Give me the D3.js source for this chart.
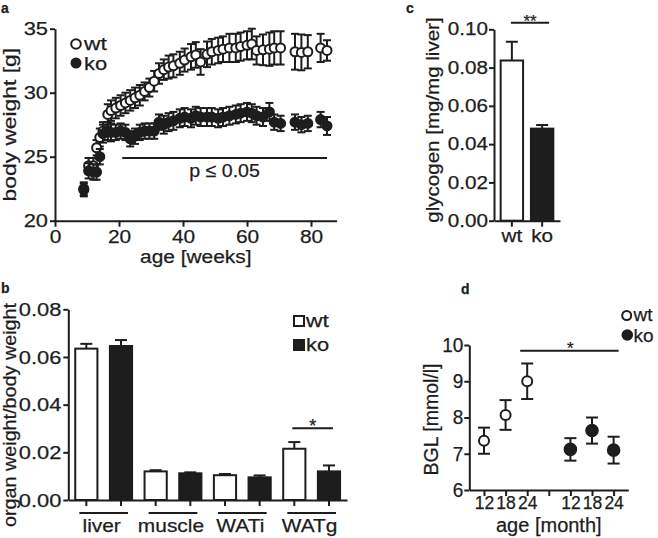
<!DOCTYPE html>
<html><head><meta charset="utf-8">
<script src="https://cdn.jsdelivr.net/npm/d3@7"></script>
<style>
body{margin:0;background:#fff}
svg{display:block}
text{font-family:"Liberation Sans",Arial,Helvetica,sans-serif;fill:#1d1d1d;stroke:#1d1d1d;stroke-width:0.25px}
</style>
</head><body>
<svg id="chart" width="658" height="538"></svg>
<script>
// ---------- DATA ----------
// Panel a: body weight over age
const weeks = [9, 10.5, 12, 13, 14, 15, 16.5, 17.5, 19, 20.5, 22, 23.5, 25, 26.5, 28, 29.5, 31, 32.5, 34, 35.5, 37, 39, 40.5, 42.5, 44, 45.5, 47.5, 49, 51, 52.5, 54.5, 56.5, 58, 60, 61.5, 63, 65, 67, 68.5, 70.5, 75, 77, 79, 83, 85];
const wtWeight = [22.5, 24.3, 24.3, 25.7, 26.5, 27.0, 28.3, 28.6, 28.8, 29.0, 29.2, 29.4, 29.6, 29.8, 30.1, 30.4, 30.9, 31.5, 31.8, 32.0, 32.1, 32.3, 32.55, 32.8, 32.95, 32.4, 33.0, 33.2, 33.3, 33.4, 33.5, 33.5, 33.6, 33.7, 33.8, 33.3, 33.35, 33.4, 33.5, 33.5, 33.2, 33.15, 33.2, 33.5, 33.3];
const wtWeightErr = [0.5, 0.6, 0.6, 0.6, 0.7, 0.7, 0.8, 0.8, 0.8, 0.8, 0.8, 0.8, 0.8, 0.8, 0.7, 0.7, 0.8, 0.8, 0.8, 0.9, 0.9, 0.9, 0.9, 1.0, 1.0, 1.0, 1.0, 1.0, 1.0, 1.0, 1.1, 1.1, 1.1, 1.1, 1.2, 1.1, 1.2, 1.3, 1.3, 1.3, 1.4, 1.4, 1.3, 1.1, 0.8];
const koWeight = [22.4, 23.9, 23.8, 23.8, 25.0, 26.8, 27.0, 26.9, 26.9, 27.0, 26.9, 26.4, 26.6, 26.9, 27.0, 27.0, 27.0, 27.7, 27.5, 27.7, 27.8, 28.0, 28.1, 28.0, 28.2, 28.1, 28.1, 28.1, 28.0, 28.1, 28.2, 28.3, 28.4, 28.5, 28.4, 28.2, 28.1, 28.5, 27.7, 27.6, 27.7, 27.5, 27.6, 27.9, 27.4];
const koWeightErr = [0.5, 0.6, 0.6, 0.6, 0.6, 0.7, 0.7, 0.7, 0.6, 0.6, 0.6, 0.6, 0.6, 0.6, 0.6, 0.6, 0.6, 0.6, 0.7, 0.7, 0.7, 0.7, 0.7, 0.7, 0.7, 0.7, 0.7, 0.7, 0.7, 0.7, 0.7, 0.7, 0.7, 0.7, 0.7, 0.7, 0.7, 0.7, 0.6, 0.6, 0.6, 0.6, 0.6, 0.6, 0.7];
const weekTicks = [0, 20, 40, 60, 80];
const weightTicks = [20, 25, 30, 35];
const sigA = {from: 21, to: 85, at: 24.9, label: "p \u2264 0.05"};

// Panel b: organ weight / body weight
const organs = ["liver", "muscle", "WATi", "WATg"];
const wtOrgan = [0.0635, 0.0120, 0.0104, 0.0215];
const wtOrganErr = [0.0020, 0.0005, 0.0005, 0.0028];
const koOrgan = [0.0646, 0.0112, 0.0095, 0.0120];
const koOrganErr = [0.0025, 0.0004, 0.0008, 0.0025];
const organTicks = [0, 0.02, 0.04, 0.06, 0.08];

// Panel c: liver glycogen
const genotypes = ["wt", "ko"];
const glycogen = [0.0837, 0.0481];
const glycogenErr = [0.0098, 0.0019];
const glycogenTicks = [0, 0.02, 0.04, 0.06, 0.08, 0.10];

// Panel d: blood glucose level
const bglAges = ["12", "18", "24"];
const wtBGL = [7.36, 8.07, 9.0];
const wtBGLErr = [0.36, 0.41, 0.49];
const koBGL = [7.12, 7.64, 7.10];
const koBGLErr = [0.31, 0.36, 0.37];
const bglTicks = [6, 7, 8, 9, 10];

// ---------- DRAWING ----------
const INK = "#1d1d1d";
const svg = d3.select("#chart");
const SW = 2;

function stretch(sel, k) {
  sel.each(function () {
    const L = this.getComputedTextLength();
    if (L > 0) {
      this.setAttribute("textLength", L * k);
      this.setAttribute("lengthAdjust", "spacingAndGlyphs");
    }
  });
}
function styleAxis(g, fs) {
  g.attr("font-size", fs).attr("font-family", null).style("color", INK);
  g.selectAll("path,line").attr("stroke-width", SW);
}
function label(x, y, txt, fs, anchor, rot) {
  const t = svg.append("text").attr("font-size", fs).attr("text-anchor", anchor || "middle").text(txt);
  if (rot) t.attr("transform", `translate(${x},${y}) rotate(-90)`);
  else t.attr("x", x).attr("y", y);
  return t;
}
function panelLetter(x, y, s) {
  svg.append("text").attr("x", x).attr("y", y).attr("font-size", 14).attr("font-weight", "bold").text(s);
}

// ===== Panel a =====
{
  const x = d3.scaleLinear().domain([0, 88]).range([55, 336.6]);
  const y = d3.scaleLinear().domain([20, 35]).range([220.7, 28.7]);
  const gx = svg.append("g").attr("transform", `translate(0,${y(20)})`)
    .call(d3.axisBottom(x).tickValues(weekTicks).tickSize(6).tickPadding(3).tickSizeOuter(0));
  styleAxis(gx, 19); stretch(gx.selectAll("text"), 1.1);
  const gy = svg.append("g").attr("transform", `translate(${x(0)},0)`)
    .call(d3.axisLeft(y).tickValues(weightTicks).tickSize(5).tickPadding(2).tickSizeOuter(0));
  styleAxis(gy, 19); stretch(gy.selectAll("text"), 1.15);

  const series = [
    {v: wtWeight, e: wtWeightErr, fill: "#fff"},
    {v: koWeight, e: koWeightErr, fill: INK}
  ];
  series.forEach(s => {
    const g = svg.append("g");
    const pts = weeks.map((w, i) => ({w, v: s.v[i], e: s.e[i]}));
    const eb = g.selectAll("g.eb").data(pts).enter().append("g")
      .attr("stroke", INK).attr("stroke-width", SW);
    eb.append("line").attr("x1", d => x(d.w)).attr("x2", d => x(d.w))
      .attr("y1", d => y(d.v - d.e)).attr("y2", d => y(d.v + d.e));
    eb.append("line").attr("x1", d => x(d.w) - 4).attr("x2", d => x(d.w) + 4)
      .attr("y1", d => y(d.v + d.e)).attr("y2", d => y(d.v + d.e));
    eb.append("line").attr("x1", d => x(d.w) - 4).attr("x2", d => x(d.w) + 4)
      .attr("y1", d => y(d.v - d.e)).attr("y2", d => y(d.v - d.e));
    g.selectAll("circle").data(pts).enter().append("circle")
      .attr("cx", d => x(d.w)).attr("cy", d => y(d.v)).attr("r", 4.5)
      .attr("fill", s.fill).attr("stroke", INK).attr("stroke-width", SW);
  });

  svg.append("line").attr("x1", x(sigA.from)).attr("x2", x(sigA.to))
    .attr("y1", y(sigA.at)).attr("y2", y(sigA.at)).attr("stroke", INK).attr("stroke-width", SW);
  stretch(label(x((sigA.from + sigA.to) / 2), y(sigA.at) + 19.5, sigA.label, 19), 1.03);

  svg.append("circle").attr("cx", 76).attr("cy", 44).attr("r", 4.8).attr("fill", "#fff").attr("stroke", INK).attr("stroke-width", SW);
  svg.append("circle").attr("cx", 76).attr("cy", 63).attr("r", 5.5).attr("fill", INK);
  stretch(label(84, 50, "wt", 19, "start"), 1.2);
  stretch(label(84, 69.5, "ko", 19, "start"), 1.15);

  stretch(label((x.range()[0] + x.range()[1]) / 2, 263, "age [weeks]", 18), 1.16);
  stretch(label(16, (y(20) + y(35)) / 2, "body weight [g]", 19, "middle", true), 1.2);
  panelLetter(1, 13, "a");
}

// ===== Panel b =====
{
  const keys = organs.flatMap(o => [o + "|wt", o + "|ko"]);
  const x = d3.scaleBand().domain(keys).range([68.3, 347]).paddingInner(0.36).paddingOuter(0.2);
  const y = d3.scaleLinear().domain([0, 0.08]).range([500, 309.3]);
  const bw = x.bandwidth();
  const data = organs.flatMap((o, i) => [
    {k: o + "|wt", v: wtOrgan[i], e: wtOrganErr[i], fill: "#fff"},
    {k: o + "|ko", v: koOrgan[i], e: koOrganErr[i], fill: INK}
  ]);
  const g = svg.append("g");
  g.selectAll("line.eb").data(data).enter().append("line")
    .attr("x1", d => x(d.k) + bw / 2).attr("x2", d => x(d.k) + bw / 2)
    .attr("y1", d => y(d.v)).attr("y2", d => y(d.v + d.e)).attr("stroke", INK).attr("stroke-width", SW);
  g.selectAll("line.cap").data(data).enter().append("line")
    .attr("x1", d => x(d.k) + bw / 2 - 6).attr("x2", d => x(d.k) + bw / 2 + 6)
    .attr("y1", d => y(d.v + d.e)).attr("y2", d => y(d.v + d.e)).attr("stroke", INK).attr("stroke-width", SW);
  g.selectAll("rect").data(data).enter().append("rect")
    .attr("x", d => x(d.k)).attr("width", bw)
    .attr("y", d => y(d.v)).attr("height", d => y(0) - y(d.v))
    .attr("fill", d => d.fill).attr("stroke", INK).attr("stroke-width", SW);

  const gx = svg.append("g").attr("transform", `translate(0,${y(0)})`)
    .call(d3.axisBottom(x).tickSize(6).tickFormat("").tickSizeOuter(0));
  styleAxis(gx, 19);
  const gy = svg.append("g").attr("transform", `translate(${x.range()[0]},0)`)
    .call(d3.axisLeft(y).tickValues(organTicks).tickFormat(d3.format(".2f")).tickSize(5).tickPadding(2).tickSizeOuter(0));
  styleAxis(gy, 19); stretch(gy.selectAll("text"), 1.15);

  organs.forEach(o => {
    const c1 = x(o + "|wt") + bw / 2, c2 = x(o + "|ko") + bw / 2;
    svg.append("line").attr("x1", c1 - 7).attr("x2", c2 + 7).attr("y1", y(0) + 13).attr("y2", y(0) + 13)
      .attr("stroke", INK).attr("stroke-width", SW);
    stretch(label((c1 + c2) / 2 - 2, 531.5, o, 19), 1.1);
  });

  const s1 = x("WATg|wt") + bw / 2, s2 = x("WATg|ko") + bw / 2;
  svg.append("line").attr("x1", s1 - 2).attr("x2", s2 + 4).attr("y1", 428.3).attr("y2", 428.3)
    .attr("stroke", INK).attr("stroke-width", SW);
  label((s1 + s2) / 2 + 1, 432, "*", 18);

  svg.append("rect").attr("x", 294).attr("y", 316).attr("width", 10).attr("height", 10)
    .attr("fill", "#fff").attr("stroke", INK).attr("stroke-width", SW);
  svg.append("rect").attr("x", 293).attr("y", 339).attr("width", 12).attr("height", 12).attr("fill", INK);
  stretch(label(306, 326.5, "wt", 19, "start"), 1.2);
  stretch(label(306, 350.5, "ko", 19, "start"), 1.15);

  stretch(label(16, 415, "organ weight/body weight", 19, "middle", true), 1.04);
  panelLetter(1, 293, "b");
}

// ===== Panel c =====
{
  const x = d3.scaleBand().domain(genotypes).range([494, 560]).paddingInner(0.26).paddingOuter(0.22);
  const y = d3.scaleLinear().domain([0, 0.1]).range([220.7, 29.3]);
  const bw = x.bandwidth();
  const data = genotypes.map((gname, i) => ({k: gname, v: glycogen[i], e: glycogenErr[i], fill: i === 0 ? "#fff" : INK}));
  const g = svg.append("g");
  g.selectAll("line.eb").data(data).enter().append("line")
    .attr("x1", d => x(d.k) + bw / 2).attr("x2", d => x(d.k) + bw / 2)
    .attr("y1", d => y(d.v)).attr("y2", d => y(d.v + d.e)).attr("stroke", INK).attr("stroke-width", SW);
  g.selectAll("line.cap").data(data).enter().append("line")
    .attr("x1", d => x(d.k) + bw / 2 - 6).attr("x2", d => x(d.k) + bw / 2 + 6)
    .attr("y1", d => y(d.v + d.e)).attr("y2", d => y(d.v + d.e)).attr("stroke", INK).attr("stroke-width", SW);
  g.selectAll("rect").data(data).enter().append("rect")
    .attr("x", d => x(d.k)).attr("width", bw)
    .attr("y", d => y(d.v)).attr("height", d => y(0) - y(d.v))
    .attr("fill", d => d.fill).attr("stroke", INK).attr("stroke-width", SW);

  const gx = svg.append("g").attr("transform", `translate(0,${y(0)})`)
    .call(d3.axisBottom(x).tickSize(6).tickPadding(3).tickSizeOuter(0));
  styleAxis(gx, 18); stretch(gx.selectAll("text"), 1.15);
  const gy = svg.append("g").attr("transform", `translate(${x.range()[0]},0)`)
    .call(d3.axisLeft(y).tickValues(glycogenTicks).tickFormat(d3.format(".2f")).tickSize(5).tickPadding(1).tickSizeOuter(0));
  styleAxis(gy, 17.5); stretch(gy.selectAll("text"), 1.18);

  const c1 = x("wt") + bw / 2, c2 = x("ko") + bw / 2;
  svg.append("line").attr("x1", c1 - 1).attr("x2", c2 + 7).attr("y1", 22.7).attr("y2", 22.7)
    .attr("stroke", INK).attr("stroke-width", SW);
  label((c1 + c2) / 2 + 3, 27, "**", 17);

  stretch(label(439, 120, "glycogen [mg/mg liver]", 19, "middle", true), 1.08);
  panelLetter(406, 13, "c");
}

// ===== Panel d =====
{
  const keys = ["wt" + bglAges[0], "wt" + bglAges[1], "wt" + bglAges[2], "gap", "ko" + bglAges[0], "ko" + bglAges[1], "ko" + bglAges[2]];
  const x = d3.scalePoint().domain(keys).range([469.3, 628.3]).padding(0.68);
  const y = d3.scaleLinear().domain([6, 10]).range([490, 345]);
  const pts = bglAges.flatMap((a, i) => [
    {k: "wt" + a, v: wtBGL[i], e: wtBGLErr[i], fill: "#fff"},
    {k: "ko" + a, v: koBGL[i], e: koBGLErr[i], fill: INK}
  ]);
  const eb = svg.append("g").selectAll("g").data(pts).enter().append("g")
    .attr("stroke", INK).attr("stroke-width", SW);
  eb.append("line").attr("x1", d => x(d.k)).attr("x2", d => x(d.k))
    .attr("y1", d => y(d.v - d.e)).attr("y2", d => y(d.v + d.e));
  eb.append("line").attr("x1", d => x(d.k) - 6).attr("x2", d => x(d.k) + 6)
    .attr("y1", d => y(d.v + d.e)).attr("y2", d => y(d.v + d.e));
  eb.append("line").attr("x1", d => x(d.k) - 6).attr("x2", d => x(d.k) + 6)
    .attr("y1", d => y(d.v - d.e)).attr("y2", d => y(d.v - d.e));
  svg.append("g").selectAll("circle").data(pts).enter().append("circle")
    .attr("cx", d => x(d.k)).attr("cy", d => y(d.v)).attr("r", d => d.fill === INK ? 5.8 : 5)
    .attr("fill", d => d.fill).attr("stroke", INK).attr("stroke-width", SW);

  const gx = svg.append("g").attr("transform", `translate(0,${y(6)})`)
    .call(d3.axisBottom(x).tickSize(6).tickPadding(1).tickSizeOuter(0)
      .tickFormat(k => k === "gap" ? "" : k.slice(2)));
  styleAxis(gx, 17.5);
  const gy = svg.append("g").attr("transform", `translate(${x.range()[0]},0)`)
    .call(d3.axisLeft(y).tickValues(bglTicks).tickFormat(d3.format("d")).tickSize(5).tickPadding(1).tickSizeOuter(0));
  styleAxis(gy, 20); stretch(gy.selectAll("text"), 0.95);

  svg.append("line").attr("x1", x("wt24") - 7).attr("x2", x("ko24") + 5).attr("y1", 350.7).attr("y2", 350.7)
    .attr("stroke", INK).attr("stroke-width", SW);
  label(x("ko12"), 354, "*", 17);

  svg.append("circle").attr("cx", 626.7).attr("cy", 315.5).attr("r", 4.5).attr("fill", "#fff").attr("stroke", INK).attr("stroke-width", SW);
  svg.append("circle").attr("cx", 627.3).attr("cy", 335).attr("r", 5.8).attr("fill", INK);
  label(633.5, 320.5, "wt", 19, "start");
  label(633.5, 342, "ko", 19, "start");

  label((x.range()[0] + x.range()[1]) / 2, 531.5, "age [month]", 20);
  label(438, (y(6) + y(10)) / 2 + 2, "BGL [mmol/l]", 19.5, "middle", true);
  panelLetter(461, 294, "d");
}
</script>
</body></html>
